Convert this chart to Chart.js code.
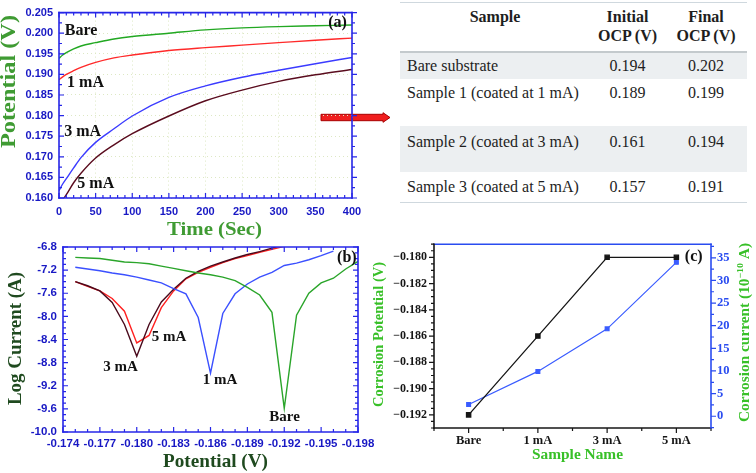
<!DOCTYPE html>
<html>
<head>
<meta charset="utf-8">
<title>OCP and Tafel results</title>
<script src="https://cdn.jsdelivr.net/npm/chart.js@4.4.1/dist/chart.umd.min.js"></script>
<style>
  html, body { margin: 0; padding: 0; background: #fff; }
  body { position: relative; width: 756px; height: 473px; overflow: hidden; }
  canvas { position: absolute; }
  #ocpChart { left: 0; top: 0; }
  #tafelChart { left: 0; top: 230px; }
  #corrChart { left: 370px; top: 230px; }
  #arrow { position: absolute; left: 318px; top: 110px; }
  #ocpTable { position: absolute; left: 400px; top: 2px; width: 347px; border-collapse: collapse; table-layout: fixed;
    font-family: "Liberation Serif", "Times New Roman", serif; font-size: 16px; line-height: 19px; color: #1e1e1e; }
  #ocpTable th { padding: 4px 0 0; vertical-align: top; font-weight: bold; text-align: center;
    border-top: 1px solid #cfd8de; border-bottom: 2px solid #c4cacd; }
  #ocpTable thead tr { height: 49px; }
  #ocpTable td { padding: 0; vertical-align: top; text-align: center; }
  #ocpTable td:first-child { text-align: left; padding-left: 7px; }
  #ocpTable tbody tr:nth-child(odd) td { background: #eceff1; }
  #ocpTable tbody tr:nth-child(1) { height: 27px; }
  #ocpTable tbody tr:nth-child(1) td { padding-top: 3px; }
  #ocpTable tbody tr:nth-child(2) { height: 47px; }
  #ocpTable tbody tr:nth-child(2) td { padding-top: 4px; }
  #ocpTable tbody tr:nth-child(3) { height: 46px; }
  #ocpTable tbody tr:nth-child(3) td { padding-top: 6px; }
  #ocpTable tbody tr:nth-child(4) { height: 31px; }
  #ocpTable tbody tr:nth-child(4) td { padding-top: 5px; border-bottom: 1px solid #cfd8de; }
</style>
</head>
<body>
<svg id="arrow" width="76" height="16">
  <polygon points="3,4.3 65,4.3 65,2.7 72,7.5 65,12.3 65,10.7 3,10.7" fill="#f01e1e" stroke="#a80000" stroke-width="1"/>
</svg>
<canvas id="ocpChart" width="400" height="240"></canvas>
<canvas id="tafelChart" width="380" height="243"></canvas>
<canvas id="corrChart" width="386" height="243"></canvas>
<table id="ocpTable">
  <colgroup><col style="width:190px"><col style="width:75px"><col style="width:82px"></colgroup>
  <thead><tr><th>Sample</th><th>Initial<br>OCP (V)</th><th>Final<br>OCP (V)</th></tr></thead>
  <tbody></tbody>
</table>
<script>
// (a) open circuit potential vs time
const ocpTime = [0, 5, 10, 20, 30, 50, 75, 100, 150, 200, 250, 300, 350, 400];
const ocpBare = [0.1939, 0.1947, 0.1953, 0.1962, 0.1969, 0.1977, 0.1986, 0.1992, 0.2000, 0.2008, 0.2013, 0.2016, 0.2018, 0.2020];
const ocp1mA = [0.1887, 0.1894, 0.1900, 0.1909, 0.1917, 0.1929, 0.1940, 0.1947, 0.1958, 0.1965, 0.1971, 0.1977, 0.1983, 0.1988];
const ocp3mA = [0.1618, 0.1634, 0.1647, 0.1673, 0.1698, 0.1735, 0.1768, 0.1799, 0.1844, 0.1872, 0.1893, 0.1910, 0.1926, 0.1941];
const ocp5mA = [0.1585, 0.1595, 0.1608, 0.1637, 0.1660, 0.1697, 0.1729, 0.1756, 0.1799, 0.1836, 0.1862, 0.1883, 0.1899, 0.1912];

// table next to (a)
const tableSamples = ["Bare substrate", "Sample 1 (coated at 1 mA)", "Sample 2 (coated at 3 mA)", "Sample 3 (coated at 5 mA)"];
const tableInitial = ["0.194", "0.189", "0.161", "0.157"];
const tableFinal = ["0.202", "0.199", "0.194", "0.191"];

// (b) Tafel curves, log current vs potential
const tafelPotential = [-0.175, -0.176, -0.177, -0.178, -0.179, -0.180, -0.181, -0.182, -0.183, -0.184, -0.185, -0.186,
  -0.187, -0.188, -0.189, -0.190, -0.191, -0.192, -0.193, -0.194, -0.195, -0.196, -0.197, -0.198];
const tafelBare = [-6.98, -6.99, -7.00, -7.03, -7.06, -7.07, -7.09, -7.13, -7.17, -7.21, -7.25, -7.28,
  -7.32, -7.38, -7.50, -7.63, -7.93, -9.59, -7.98, -7.60, -7.42, -7.34, -7.18, -7.05];
const tafel1mA = [-7.15, -7.18, -7.21, -7.25, -7.28, -7.32, -7.37, -7.42, -7.52, -7.61, -8.02, -8.98,
  -7.95, -7.61, -7.44, -7.32, -7.24, -7.12, -7.08, -7.02, -6.95, -6.87, null, null];
const tafel3mA = [-7.40, -7.47, -7.56, -7.76, -8.14, -8.69, -8.14, -7.75, -7.53, -7.34, -7.22, -7.13,
  -7.06, -6.99, -6.93, -6.88, -6.82, -6.76, null, null, null, null, null, null];
const tafel5mA = [-7.40, -7.48, -7.56, -7.69, -7.91, -8.46, -8.33, -7.85, -7.56, -7.35, -7.24, -7.15,
  -7.07, -7.00, -6.95, -6.89, -6.84, -6.79, -6.73, null, null, null, null, null];

// (c) corrosion potential and current per sample
const sampleNames = ["Bare", "1 mA", "3 mA", "5 mA"];
const corrPotential = [-0.192, -0.186, -0.180, -0.180];
const corrCurrent = [2.6, 9.9, 19.3, 34.0];
const potentialTicks = [-0.192, -0.190, -0.188, -0.186, -0.184, -0.182, -0.180];
const currentTicks = [0, 5, 10, 15, 20, 25, 30, 35];

Chart.defaults.font.family = '"Liberation Sans", Arial, sans-serif';
Chart.defaults.animation = false;
Chart.defaults.events = [];
Chart.defaults.plugins.legend.display = false;
Chart.defaults.plugins.tooltip.enabled = false;

const SERIF = '"Liberation Serif", "Times New Roman", serif';
const pts = (xs, ys) => xs.map((x, i) => ({ x: x, y: ys[i] }));

// fill the table
const tbody = document.querySelector("#ocpTable tbody");
tableSamples.forEach((name, i) => {
  const tr = document.createElement("tr");
  [name, tableInitial[i], tableFinal[i]].forEach((txt) => {
    const td = document.createElement("td");
    td.textContent = txt;
    tr.appendChild(td);
  });
  tbody.appendChild(tr);
});

// draws a string centred (or left/right aligned) on x,y, optionally rotated and stretched to a width
function drawLabel(ctx, t, x, y) {
  const parts = t.parts || [[t.text, false]];
  const supFont = "bold " + Math.round(t.size * 0.62) + "px " + SERIF;
  const mainFont = "bold " + t.size + "px " + SERIF;
  let total = 0;
  const widths = parts.map(([txt, sup]) => {
    ctx.font = sup ? supFont : mainFont;
    const w = ctx.measureText(txt).width;
    total += w;
    return w;
  });
  ctx.save();
  ctx.translate(x, y);
  if (t.rot) ctx.rotate((t.rot * Math.PI) / 180);
  if (t.width) ctx.scale(t.width / total, 1);
  ctx.fillStyle = t.fill || "#111";
  ctx.textBaseline = "middle";
  ctx.textAlign = "left";
  let cx = t.align === "left" ? 0 : t.align === "right" ? -total : -total / 2;
  parts.forEach(([txt, sup], i) => {
    ctx.font = sup ? supFont : mainFont;
    ctx.fillText(txt, cx, sup ? -t.size * 0.32 : 0);
    cx += widths[i];
  });
  ctx.restore();
}

function textPlugin(items) {
  return {
    id: "texts",
    afterDatasetsDraw(chart) {
      items.forEach((t) => {
        let x = t.x;
        let y = t.y;
        if (t.xScale) {
          x = chart.scales[t.xScale].getPixelForValue(t.x);
          y = chart.scales[t.yScale].getPixelForValue(t.y);
        }
        drawLabel(chart.ctx, t, x, y);
      });
    },
  };
}

// box round the plot with major/minor tick marks
function framePlugin(sides) {
  return {
    id: "frame",
    afterDatasetsDraw(chart) {
      const { ctx, chartArea: a } = chart;
      ctx.save();
      sides.forEach((s) => {
        const horiz = s.pos === "top" || s.pos === "bottom";
        const at = a[s.pos];
        ctx.strokeStyle = s.stroke;
        ctx.lineWidth = 1.6;
        ctx.beginPath();
        if (horiz) { ctx.moveTo(a.left - 0.8, at); ctx.lineTo(a.right + 0.8, at); }
        else { ctx.moveTo(at, a.top - 0.8); ctx.lineTo(at, a.bottom + 0.8); }
        ctx.stroke();
        if (!s.scale) return;
        const sc = chart.scales[s.scale];
        const major = sc.ticks.map((t) => sc.getPixelForValue(t.value)).sort((p, q) => p - q);
        const into = s.pos === "left" || s.pos === "top" ? 1 : -1;
        const dir = s.dir === "in" ? into : -into;
        const lo = horiz ? a.left : a.top;
        const hi = horiz ? a.right : a.bottom;
        const marks = major.map((p) => [p, 5]);
        const n = s.minor || 0;
        if (n && major.length > 1) {
          const d = (major[1] - major[0]) / (n + 1);
          for (let p = major[0] - d; p >= lo - 0.5; p -= d) marks.push([p, 3]);
          for (let j = 0; j < major.length - 1; j++) {
            for (let k = 1; k <= n; k++) marks.push([major[j] + k * d, 3]);
          }
          for (let p = major[major.length - 1] + d; p <= hi + 0.5; p += d) marks.push([p, 3]);
        }
        ctx.lineWidth = 1.2;
        ctx.beginPath();
        marks.forEach(([p, len]) => {
          if (horiz) { ctx.moveTo(p, at); ctx.lineTo(p, at + dir * len); }
          else { ctx.moveTo(at, p); ctx.lineTo(at + dir * len, p); }
        });
        ctx.stroke();
      });
      ctx.restore();
    },
  };
}

const axisBlue = "#2626e8";
const tickBlue = "#1818c4";
const titleGreen = "#3f9b33";
const darkGreen = "#1f4a1f";
const brightGreen = "#38c028";

// ---------- (a) ----------
new Chart(document.getElementById("ocpChart"), {
  type: "line",
  data: {
    datasets: [
      { data: pts(ocpTime, ocpBare), borderColor: "#22a822" },
      { data: pts(ocpTime, ocp1mA), borderColor: "#ff2a2a" },
      { data: pts(ocpTime, ocp3mA), borderColor: "#3b3bff" },
      { data: pts(ocpTime, ocp5mA), borderColor: "#5a0c1e" },
    ],
  },
  options: {
    responsive: false,
    layout: { padding: { top: 8, right: 48, left: 0, bottom: 0 } },
    elements: {
      point: { radius: 0 },
      line: { borderWidth: 1.4, cubicInterpolationMode: "monotone" },
    },
    scales: {
      x: {
        type: "linear",
        min: 0,
        max: 400,
        grid: { color: "#dde8c4", drawTicks: false },
        border: { display: false, dash: [1, 3] },
        ticks: { stepSize: 50, color: tickBlue, font: { size: 11, weight: "bold" }, padding: 7, maxRotation: 0 },
        afterFit: (s) => { s.height = 42; },
      },
      y: {
        min: 0.16,
        max: 0.205,
        grid: { color: "#dde8c4", drawTicks: false },
        border: { display: false, dash: [1, 3] },
        ticks: {
          stepSize: 0.005,
          color: tickBlue,
          font: { size: 11, weight: "bold" },
          padding: 6,
          callback: (v) => v.toFixed(3),
        },
        afterFit: (s) => { s.width = 59; },
      },
    },
  },
  plugins: [
    framePlugin([
      { pos: "left", stroke: axisBlue, scale: "y", dir: "in", minor: 1 },
      { pos: "right", stroke: axisBlue, scale: "y", dir: "out", minor: 1 },
      { pos: "top", stroke: axisBlue, scale: "x", dir: "in", minor: 4 },
      { pos: "bottom", stroke: axisBlue, scale: "x", dir: "in", minor: 4 },
    ]),
    textPlugin([
      { text: "Bare", size: 16, align: "left", xScale: "x", yScale: "y", x: 8, y: 0.2006 },
      { text: "1 mA", size: 16, align: "left", xScale: "x", yScale: "y", x: 11, y: 0.1879 },
      { text: "3 mA", size: 16, align: "left", xScale: "x", yScale: "y", x: 7, y: 0.176 },
      { text: "5 mA", size: 16, align: "left", xScale: "x", yScale: "y", x: 25, y: 0.1634 },
      { text: "(a)", size: 16, align: "right", xScale: "x", yScale: "y", x: 393, y: 0.2025 },
      { text: "Potential (V)", size: 20, width: 133, rot: -90, x: 10, y: 81.5, fill: titleGreen },
      { text: "Time (Sec)", size: 19, width: 95, x: 214.5, y: 230, fill: titleGreen },
    ]),
  ],
});

// ---------- (b) ----------
new Chart(document.getElementById("tafelChart"), {
  type: "line",
  data: {
    datasets: [
      { data: pts(tafelPotential, tafelBare), borderColor: "#2aa52a" },
      { data: pts(tafelPotential, tafel1mA), borderColor: "#3b50ff" },
      { data: pts(tafelPotential, tafel3mA), borderColor: "#4a0a1c" },
      { data: pts(tafelPotential, tafel5mA), borderColor: "#ff2020" },
    ],
  },
  options: {
    responsive: false,
    layout: { padding: { top: 17, right: 22, left: 0, bottom: 0 } },
    elements: { point: { radius: 0 }, line: { borderWidth: 1.4, tension: 0 } },
    scales: {
      x: {
        type: "linear",
        reverse: true,
        min: -0.198,
        max: -0.174,
        grid: { display: false, drawTicks: false },
        border: { display: false },
        ticks: {
          stepSize: 0.003,
          color: tickBlue,
          font: { size: 11.5, weight: "bold" },
          padding: 5,
          maxRotation: 0,
          callback: (v) => v.toFixed(3),
        },
        afterFit: (s) => { s.height = 41; },
      },
      y: {
        min: -10,
        max: -6.8,
        grid: { display: false, drawTicks: false },
        border: { display: false },
        ticks: {
          stepSize: 0.4,
          color: tickBlue,
          font: { size: 11.5, weight: "bold" },
          padding: 6,
          callback: (v) => v.toFixed(1),
        },
        afterFit: (s) => { s.width = 63; },
      },
    },
  },
  plugins: [
    framePlugin([
      { pos: "left", stroke: axisBlue, scale: "y", dir: "in", minor: 3 },
      { pos: "right", stroke: axisBlue, scale: "y", dir: "in", minor: 3 },
      { pos: "top", stroke: axisBlue, scale: "x", dir: "in", minor: 2 },
      { pos: "bottom", stroke: axisBlue, scale: "x", dir: "in", minor: 2 },
    ]),
    textPlugin([
      { text: "5 mA", size: 15, align: "left", xScale: "x", yScale: "y", x: -0.18122, y: -8.36 },
      { text: "3 mA", size: 15, align: "left", xScale: "x", yScale: "y", x: -0.17728, y: -8.88 },
      { text: "1 mA", size: 15, align: "left", xScale: "x", yScale: "y", x: -0.18537, y: -9.11 },
      { text: "Bare", size: 15, align: "left", xScale: "x", yScale: "y", x: -0.19078, y: -9.74 },
      { text: "(b)", size: 16, align: "right", xScale: "x", yScale: "y", x: -0.19789, y: -6.98 },
      { text: "Log Current (A)", size: 19, width: 133, rot: -90, x: 16, y: 108.5, fill: darkGreen },
      { text: "Potential (V)", size: 19, width: 105, x: 215.5, y: 232, fill: darkGreen },
    ]),
  ],
});

// ---------- (c) ----------
new Chart(document.getElementById("corrChart"), {
  type: "line",
  data: {
    labels: sampleNames,
    datasets: [
      {
        data: corrPotential,
        yAxisID: "y",
        borderColor: "#161616",
        backgroundColor: "#161616",
        borderWidth: 1.3,
        pointStyle: "rect",
        pointRadius: 3,
      },
      {
        data: corrCurrent,
        yAxisID: "y1",
        borderColor: "#3a5cff",
        backgroundColor: "#3a5cff",
        borderWidth: 1.2,
        pointStyle: "rect",
        pointRadius: 2.7,
      },
    ],
  },
  options: {
    responsive: false,
    layout: { padding: { top: 13, right: 0, left: 0, bottom: 0 } },
    elements: { line: { tension: 0 } },
    scales: {
      x: {
        type: "category",
        offset: true,
        grid: { display: false, drawTicks: false },
        border: { display: false },
        ticks: { color: "#161616", font: { family: SERIF, size: 12.5, weight: "bold" }, padding: 5, maxRotation: 0 },
        afterFit: (s) => { s.height = 45; },
      },
      y: {
        position: "left",
        min: -0.193,
        max: -0.179,
        grid: { display: false, drawTicks: false },
        border: { display: false },
        afterBuildTicks: (s) => { s.ticks = potentialTicks.map((v) => ({ value: v })); },
        ticks: {
          color: "#161616",
          font: { family: SERIF, size: 12, weight: "bold" },
          padding: 7,
          callback: (v) => v.toFixed(3).replace("-", "\u2212"),
        },
        afterFit: (s) => { s.width = 64; },
      },
      y1: {
        position: "right",
        min: -2.6,
        max: 38,
        grid: { display: false, drawTicks: false },
        border: { display: false },
        afterBuildTicks: (s) => { s.ticks = currentTicks.map((v) => ({ value: v })); },
        ticks: { color: "#2a4cf0", font: { family: SERIF, size: 12.5, weight: "bold" }, padding: 6 },
        afterFit: (s) => { s.width = 45; },
      },
    },
  },
  plugins: [
    framePlugin([
      { pos: "top", stroke: "#2a4cf0" },
      { pos: "left", stroke: "#161616", scale: "y", dir: "out", minor: 3 },
      { pos: "bottom", stroke: "#161616", scale: "x", dir: "out", minor: 1 },
      { pos: "right", stroke: "#2a4cf0", scale: "y1", dir: "out", minor: 1 },
    ]),
    textPlugin([
      { text: "(c)", size: 16, xScale: "x", yScale: "y", x: 3.25, y: -0.18 },
      { text: "Corrosion Potential (V)", size: 14, width: 145, rot: -90, x: 9, y: 104.5, fill: brightGreen },
      {
        parts: [["Corrosion current (10", false], ["\u221210", true], [" A)", false]],
        size: 14, width: 179, rot: -90, x: 375, y: 102.5, fill: brightGreen,
      },
      { text: "Sample Name", size: 15, width: 91, x: 207.5, y: 225, fill: brightGreen },
    ]),
  ],
});
</script>
</body>
</html>
